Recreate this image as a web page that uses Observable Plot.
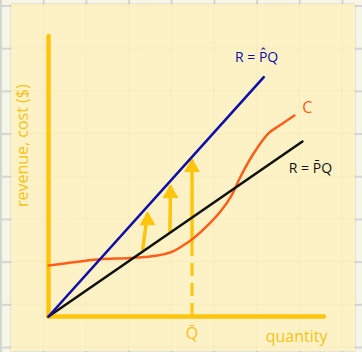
<!DOCTYPE html>
<html>
<head>
<meta charset="utf-8">
<script src="https://cdn.jsdelivr.net/npm/d3@7"></script>
<script src="https://cdn.jsdelivr.net/npm/@observablehq/plot@0.6"></script>
<style>
  html, body { margin: 0; padding: 0; }
  #paper {
    position: relative; width: 362px; height: 352px; overflow: hidden;
    background-color: #f7f5e8;
    background-image:
      linear-gradient(to right, #d5d5d2 1.5px, transparent 1.5px),
      linear-gradient(to bottom, #d5d5d2 1.5px, transparent 1.5px);
    background-size: 42.7px 42.7px;
    background-position: 0px 5px;
  }
  #panel {
    position: absolute; left: 11px; top: 4px; width: 344px; height: 347px;
    background-color: #fdf2c6;
    background-image:
      linear-gradient(to right, rgba(200,180,120,0.10) 1px, transparent 1px),
      linear-gradient(to bottom, rgba(200,180,120,0.10) 1px, transparent 1px);
    background-size: 42.7px 42.7px;
    background-position: -11px 1px;
    box-shadow: 0 0 1.5px rgba(0,0,0,0.25);
  }
  #chart { position: absolute; left: 0; top: 0; }
</style>
</head>
<body>
<div id="paper"><div id="panel"></div><div id="chart"></div></div>
<script>
// Revenue lines R = P·Q for the high price (P̂) and the normal price (P̄)
const hatQ = [0, 7.8];
const hatR = [0, 8.55];
const barQ = [0, 9.2];
const barR = [0, 6.25];

// Cost curve C(Q)
const costQ = [0, 1.78, 2.97, 3.95, 4.49, 4.82, 5.25, 5.69, 6.23, 6.63, 6.96, 7.43, 7.97, 8.37, 8.91];
const costC = [1.82, 2.04, 2.09, 2.18, 2.32, 2.5, 2.79, 3.18, 3.75, 4.32, 5.0, 5.82, 6.54, 6.82, 7.18];

// Upward shift arrows: from the normal revenue line toward the high-price line
const arrowQFrom = [3.41, 4.40, 5.2];
const arrowQTo = [3.59, 4.42, 5.2];
const arrowFrom = [2.36, 3.0, 2.6];
const arrowTo = [3.71, 4.68, 5.61];

// Output level Q̄
const qBar = 5.2;
const qBarCost = 2.6;

// Axis extents
const qMax = 10;
const rMax = 10;

// Labels
const labels = [
  {text: "R = P\u0302Q", q: 7.54, r: 9.25, color: "#0f0fa6", size: 14},
  {text: "R = P\u0304Q", q: 9.49, r: 5.29, color: "#111111", size: 14},
  {text: "C", q: 9.38, r: 7.46, color: "#ff5e1a", size: 16}
];
const axisLabels = [
  {text: "quantity", q: 8.99, r: -0.72, rotate: 0},
  {text: "Q\u0304", q: qBar, r: -0.62, rotate: 0},
  {text: "revenue, cost ($)", q: -0.94, r: 6.1, rotate: -90}
];

const yellow = "#ffc40c";
const hand = "'Open Sans', 'DejaVu Sans', sans-serif";

const hatLine = hatQ.map((q, i) => ({q, r: hatR[i]}));
const barLine = barQ.map((q, i) => ({q, r: barR[i]}));
const cost = costQ.map((q, i) => ({q, c: costC[i]}));
const arrows = arrowFrom.map((r1, i) => ({q1: arrowQFrom[i], q2: arrowQTo[i], r1, r2: arrowTo[i]}));

const chart = Plot.plot({
  width: 362,
  height: 352,
  marginLeft: 48,
  marginRight: 38,
  marginTop: 36,
  marginBottom: 36,
  x: {domain: [0, qMax], axis: null},
  y: {domain: [0, rMax], axis: null},
  style: {background: "transparent", overflow: "visible"},
  marks: [
    // axes
    Plot.ruleX([0], {y1: 0, y2: rMax, stroke: yellow, strokeWidth: 4.5, strokeLinecap: "round"}),
    Plot.ruleY([0], {x1: 0, x2: qMax, stroke: yellow, strokeWidth: 4.5, strokeLinecap: "round"}),
    // dashed drop line at Q̄
    Plot.ruleX([qBar], {y1: 0, y2: qBarCost, stroke: yellow, strokeWidth: 3, strokeDasharray: "13,7"}),
    // shift arrows
    Plot.link(arrows, {x1: "q1", y1: "r1", x2: "q2", y2: "r2", stroke: yellow, strokeWidth: 3.5}),
    Plot.dot(arrows, {x: "q2", y: "r2", dy: 8, symbol: "triangle", r: 5.4, fill: yellow, stroke: yellow, strokeWidth: 1}),
    // cost curve
    Plot.line(cost, {x: "q", y: "c", stroke: "#ff5e1a", strokeWidth: 2.5, curve: "catmull-rom"}),
    // revenue lines
    Plot.line(barLine, {x: "q", y: "r", stroke: "#111111", strokeWidth: 2.6}),
    Plot.line(hatLine, {x: "q", y: "r", stroke: "#0f0fa6", strokeWidth: 2.6}),
    // labels
    Plot.text(labels, {x: "q", y: "r", text: "text", fill: "color", fontSize: (d) => d.size, fontFamily: hand, letterSpacing: 0.8}),
    Plot.text(axisLabels, {x: "q", y: "r", text: "text", rotate: "rotate", fill: "#f6c213", fontSize: 16, fontFamily: hand, letterSpacing: 1.5})
  ]
});
document.getElementById("chart").appendChild(chart);
</script>
</body>
</html>
